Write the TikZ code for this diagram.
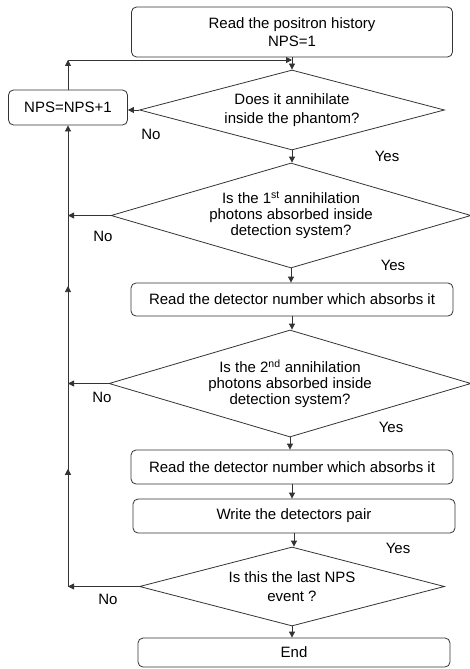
\documentclass[tikz,border=0pt]{standalone}
\usepackage{fontspec}
\setmainfont{Liberation Sans}
\usetikzlibrary{shapes.geometric,arrows.meta,decorations.markings}
\begin{document}
\begin{tikzpicture}[x=1pt,y=-1pt,
  every node/.style={font=\fontsize{15}{18.5}\selectfont, text=black},
  procbox/.style={draw=black!80, line width=0.8pt, rounded corners=5pt, align=center, inner sep=0pt},
  dec/.style={diamond, draw=black!80, line width=0.8pt, inner sep=0pt, align=center},
  tight/.style={font=\fontsize{15}{16}\selectfont},
  conn/.style={draw=black!80, line width=0.8pt},
  arr/.style={conn, -{Triangle[length=6pt,width=6pt]}},
  midarr/.style={conn, postaction={decorate}, decoration={markings,
     mark=at position 0.58 with {\arrow{Triangle[length=6pt,width=6pt]}}}}]
\useasboundingbox (0,0) rectangle (470,669);
% nodes
\node[procbox, minimum width=321pt, minimum height=50pt] (box1) at (292,32) {Read the positron history\\NPS=1};
\node[dec, aspect=3.8, minimum width=305pt, minimum height=80pt] (d1) at (292,110) {Does it annihilate\\inside the phantom?};
\node[procbox, minimum width=119pt, minimum height=35pt] (nps) at (68,107.5) {NPS=NPS+1};
\node[dec, tight, aspect=3.4, minimum width=360pt, minimum height=105pt] (d2) at (291,215.5) {Is the 1\textsuperscript{st} annihilation\\photons absorbed inside\\detection system?};
\node[procbox, minimum width=322pt, minimum height=33pt] (r1) at (292,299.5) {Read the detector number which absorbs it};
\node[dec, tight, aspect=3.4, minimum width=362pt, minimum height=107pt] (d3) at (290,383.5) {Is the 2\textsuperscript{nd} annihilation\\photons absorbed inside\\detection system?};
\node[procbox, minimum width=322pt, minimum height=34pt] (r2) at (292,467) {Read the detector number which absorbs it};
\node[procbox, minimum width=322pt, minimum height=34pt] (w) at (294,516) {Write the detectors pair};
\node[dec, aspect=3.8, minimum width=305pt, minimum height=79pt] (d4) at (292,586.5) {Is this the last NPS\\event ?};
\node[procbox, minimum width=312pt, minimum height=29pt] (e) at (294,652.5) {End};
% labels
\node (no1) at (151,134) {No};
\node (yes1) at (387,156) {Yes};
\node (no2) at (103,236) {No};
\node (yes2) at (393,265) {Yes};
\node (no3) at (102,397) {No};
\node (yes3) at (391,427) {Yes};
\node (yes4) at (398,548) {Yes};
\node (no4) at (108,599) {No};
% helper coordinates
\coordinate (j) at (292,60);
\coordinate (ctop) at (nps.north |- j);
\coordinate (c2) at (nps.south |- d2.west);
\coordinate (c3) at (nps.south |- d3.west);
\coordinate (c4) at (nps.south |- d4.west);
% main flow
\draw[arr] (box1.south) -- (d1.north);
\draw[arr] (d1.south) -- (d1.south |- d2.north);
\draw[arr] (d2.south) -- (d2.south |- r1.north);
\draw[arr] (r1.south) -- (r1.south |- d3.north);
\draw[arr] (d3.south) -- (d3.south |- r2.north);
\draw[arr] (r2.south) -- (r2.south |- w.north);
\draw[arr] (w.south) -- (w.south |- d4.north);
\draw[arr] (d4.south) -- (d4.south |- e.north);
% no branches
\draw[arr] (d1.west) -- (d1.west -| nps.east);
\draw[arr] (d2.west) -- (c2);
\draw[arr] (d3.west) -- (c3);
\draw[arr] (d4.west) -- (c4);
\draw[midarr] (c4) -- (c3);
\draw[midarr] (c3) -- (c2);
\draw[arr] (c2) -- (nps.south);
\draw[arr] (nps.north) -- (ctop);
\draw[arr] (ctop) -- (j);
\end{tikzpicture}
\end{document}
